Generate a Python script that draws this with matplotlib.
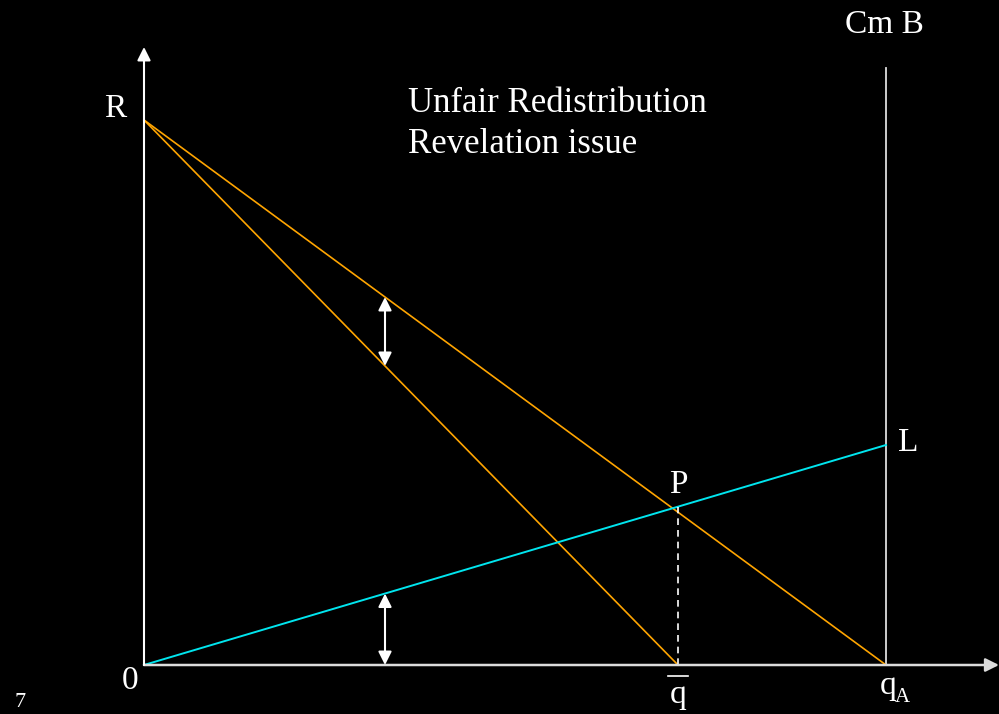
import matplotlib
matplotlib.use("Agg")
import matplotlib.pyplot as plt

plt.rcParams['font.family'] = ['Liberation Serif', 'DejaVu Serif']

# Data (units relative to origin)
q_A = 742          # capacity of A (x where outer demand line hits zero)
q_bar = 534        # x where inner demand line hits zero
R = 545            # intercept of the demand lines
L = 220            # value of the cyan cost line at q_A
x_arrow = 241      # position of the double arrows
x_axis_end = 855
y_axis_end = 618
cmB_top = 597

ORANGE = '#FFA500'
CYAN = '#00E5EE'
WHITE = 'white'

fig = plt.figure(figsize=(9.99, 7.14), dpi=100, facecolor='black')
ax = fig.add_axes([0, 0, 1, 1])
ax.set_facecolor('black')
ax.set_xlim(-144, 855)
ax.set_ylim(-49, 665)
ax.axis('off')

# axes with arrows
ax.annotate('', xy=(x_axis_end, 0), xytext=(0, 0),
            arrowprops=dict(arrowstyle='-|>', color='#DDDDDD', lw=1.8, mutation_scale=20, shrinkA=0, shrinkB=0))
ax.annotate('', xy=(0, y_axis_end), xytext=(0, 0),
            arrowprops=dict(arrowstyle='-|>', color=WHITE, lw=1.5, mutation_scale=20, shrinkA=0, shrinkB=0))

# Cm B vertical line
ax.plot([q_A, q_A], [0, cmB_top], color='#DDDDDD', lw=1.3)

# demand lines
ax.plot([0, q_A], [R, 0], color=ORANGE, lw=1.2)
ax.plot([0, q_bar], [R, 0], color=ORANGE, lw=1.2)

# cyan cost line
ax.plot([0, q_A], [0, L], color=CYAN, lw=1.4)

# dashed vertical at q_bar up to cyan line
p_y = L * q_bar / q_A
ax.plot([q_bar, q_bar], [0, p_y], color=WHITE, lw=1.2, ls=(0, (4, 3)))

# double arrows
y_top1 = R * (1 - x_arrow / q_A)
y_bot1 = R * (1 - x_arrow / q_bar)
y_top2 = L * x_arrow / q_A
for (ya, yb) in [(y_bot1, y_top1), (0, y_top2)]:
    ax.annotate('', xy=(x_arrow, yb), xytext=(x_arrow, ya),
                arrowprops=dict(arrowstyle='<|-|>', color=WHITE, lw=1.5, mutation_scale=20, shrinkA=0, shrinkB=0))

fs = 24
ax.text(q_A - 2, 632, 'Cm B', color=WHITE, fontsize=fs, ha='center', va='baseline')
ax.text(-29, 548, 'R', color=WHITE, fontsize=fs, ha='center', va='baseline')
ax.text(264, 553, 'Unfair Redistribution', color=WHITE, fontsize=25, ha='left', va='baseline')
ax.text(264, 512, 'Revelation issue', color=WHITE, fontsize=25, ha='left', va='baseline')
ax.text(754, 214, 'L', color=WHITE, fontsize=fs, ha='left', va='baseline')
ax.text(q_bar, 172, 'P', color=WHITE, fontsize=fs, ha='center', va='baseline')
ax.text(-14, -24, '0', color=WHITE, fontsize=fs, ha='center', va='baseline')
ax.text(q_bar, -38, 'q', color=WHITE, fontsize=fs, ha='center', va='baseline')
ax.plot([q_bar - 10, q_bar + 10], [-11, -11], color=WHITE, lw=1.2)
ax.text(q_A + 2, -29, 'q', color=WHITE, fontsize=fs, ha='center', va='baseline')
ax.text(q_A + 9, -37, 'A', color=WHITE, fontsize=15, ha='left', va='baseline')
ax.text(-129, -42, '7', color=WHITE, fontsize=16, ha='left', va='baseline')

fig.savefig('out.png', dpi=100, facecolor='black')
